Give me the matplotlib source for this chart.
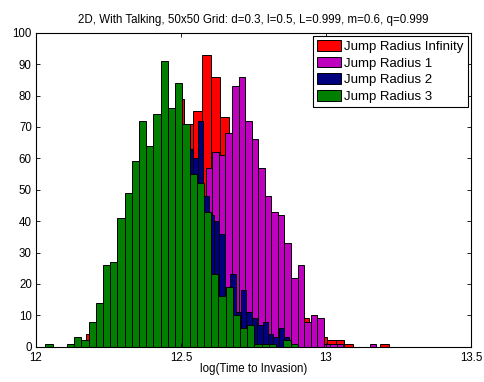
import numpy as np
import matplotlib
matplotlib.use("Agg")
import matplotlib.pyplot as plt

plt.rcParams['font.family'] = ['Liberation Sans', 'DejaVu Sans']

# histogram counts, 35 bins per run, each run binned over its own (min, max)
labels = ["Jump Radius Infinity", "Jump Radius 1", "Jump Radius 2", "Jump Radius 3"]
colors = ["#ff0000", "#bf00bf", "#00007f", "#007f00"]

counts_inf = [1, 4, 4, 6, 10, 12, 20, 25, 36, 45, 52, 79, 71, 75, 93, 86, 73, 62,
              55, 46, 38, 30, 24, 17, 12, 9, 6, 3, 2, 2, 1, 0, 0, 0, 1]
range_inf = (12.1420, 13.2176)

counts_r1 = [1, 2, 5, 9, 14, 20, 26, 30, 36, 57, 62, 61, 68, 83, 86, 72, 66, 57,
             48, 43, 42, 33, 22, 26, 8, 10, 9, 1, 1, 1, 0, 0, 0, 0, 1]
range_r1 = (12.3817, 13.1736)

counts_r2 = [1, 3, 6, 10, 16, 22, 28, 34, 40, 48, 53, 57, 62, 70, 68, 63, 60, 72,
             48, 42, 40, 36, 17, 23, 11, 18, 11, 9, 7, 8, 4, 3, 6, 3, 1]
range_r2 = (12.2428, 12.8926)

counts_r3 = [1, 0, 0, 1, 3, 2, 8, 14, 26, 27, 41, 49, 59, 72, 64, 74, 91, 76,
             84, 71, 55, 52, 43, 23, 16, 19, 10, 6, 7, 1, 1, 1, 0, 2, 1]
range_r3 = (12.0321, 12.9026)

series = [(counts_inf, range_inf), (counts_r1, range_r1),
          (counts_r2, range_r2), (counts_r3, range_r3)]

fig = plt.figure(figsize=(4.84, 3.82), dpi=100)
ax = fig.add_axes([0.0744, 0.0924, 0.8986, 0.822])

for (counts, (lo, hi)), lab, col in zip(series, labels, colors):
    edges = np.linspace(lo, hi, len(counts) + 1)
    ax.bar(edges[:-1], counts, width=np.diff(edges), align='edge',
           color=col, edgecolor='black', linewidth=0.7, label=lab)

ax.set_xlim(12, 13.5)
ax.set_ylim(0, 100)
ax.set_xticks([12, 12.5, 13, 13.5])
ax.set_xticklabels(["12", "12.5", "13", "13.5"])
ax.set_yticks(range(0, 101, 10))
ax.tick_params(direction='in', length=3, width=0.6, top=True, right=True,
               labelsize=8.3)
ax.tick_params(axis='x', pad=4)
ax.tick_params(axis='y', pad=3)
for sp in ax.spines.values():
    sp.set_linewidth(0.8)

ax.set_title("2D, With Talking, 50x50 Grid: d=0.3, l=0.5, L=0.999, m=0.6, q=0.999",
             fontsize=8.3, pad=7)
ax.set_xlabel("log(Time to Invasion)", fontsize=8.3, labelpad=-1)

leg = ax.legend(loc='upper right', fontsize=9.5, fancybox=False, framealpha=1,
                edgecolor='black', borderaxespad=0.25, handlelength=1.8,
                handleheight=0.9, handletextpad=0.25, labelspacing=0.27,
                borderpad=0.3)
leg.get_frame().set_linewidth(0.8)

fig.savefig("out.png", dpi=100)
